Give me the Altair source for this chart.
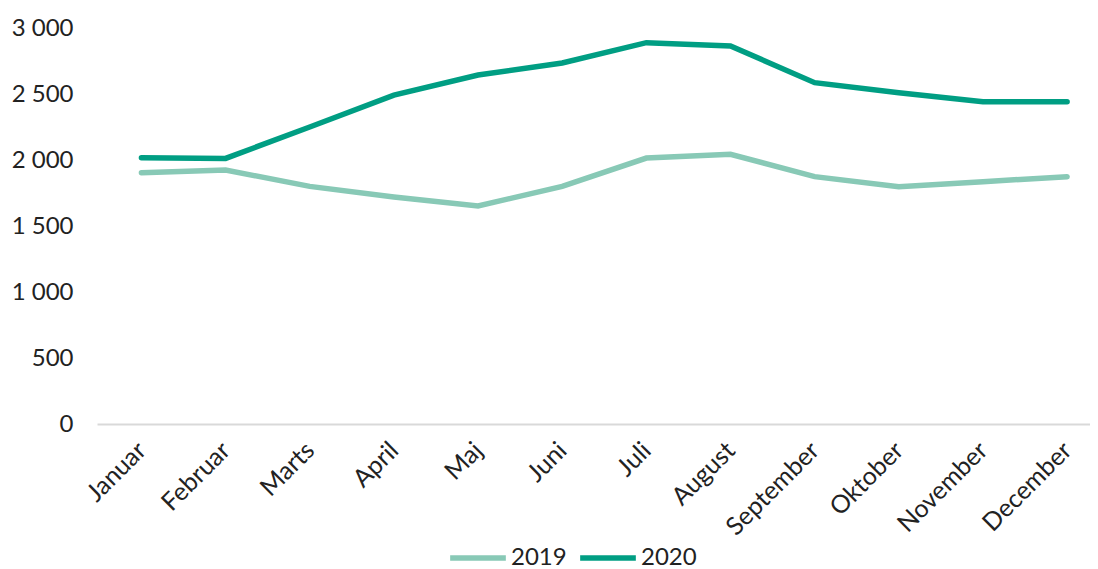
import altair as alt
import pandas as pd

months = ["Januar", "Februar", "Marts", "April", "Maj", "Juni", "Juli",
          "August", "September", "Oktober", "November", "December"]
v2019 = [1904, 1924, 1800, 1720, 1652, 1800, 2015, 2043, 1874, 1798, 1836, 1874]
v2020 = [2017, 2012, 2250, 2492, 2644, 2735, 2889, 2864, 2586, 2510, 2442, 2442]
series = ["2019", "2020"]
colors = ["#88c9b6", "#009e83"]
yticks = [0, 500, 1000, 1500, 2000, 2500, 3000]

rows = []
for s, vals in zip(series, [v2019, v2020]):
    for m, v in zip(months, vals):
        rows.append({"Måned": m, "År": s, "Antal": v})
df = pd.DataFrame(rows)

FONT = "Lato"

chart = alt.Chart(df).mark_line(strokeWidth=5.5, strokeCap="round", strokeJoin="miter").encode(
    x=alt.X("Måned:N", sort=months,
            scale=alt.Scale(type="point", padding=0.4, align=0.66),
            axis=alt.Axis(title=None, labelAngle=-45, labelAlign="right", labelBaseline="middle",
                          labelFont=FONT, labelFontSize=25, labelColor="#222222",
                          ticks=False, domainColor="#d9d9d9", domainWidth=2,
                          labelPadding=22, grid=False)),
    y=alt.Y("Antal:Q", scale=alt.Scale(domain=[0, 3000], nice=False),
            axis=alt.Axis(title=None, values=yticks, grid=False, domain=False, ticks=False,
                          labelFont=FONT, labelFontSize=24, labelColor="#222222",
                          labelPadding=24,
                          labelExpr="replace(format(datum.value, ','), ',', ' ')")),
    color=alt.Color("År:N", scale=alt.Scale(domain=series, range=colors),
                    legend=alt.Legend(title=None, orient="none", direction="horizontal",
                                      legendX=350, legendY=499,
                                      symbolType="stroke", symbolSize=3100,
                                      symbolStrokeWidth=5.5,
                                      labelFont=FONT, labelFontSize=24, labelColor="#222222",
                                      labelOffset=2, columnPadding=2)),
).properties(
    width=993, height=396,
    autosize=alt.AutoSizeParams(type="none"),
    padding={"left": 89, "top": 20, "right": 0, "bottom": 145},
).configure_view(stroke=None)

chart.save("out.html", embed_options={"renderer": "svg", "actions": False})
